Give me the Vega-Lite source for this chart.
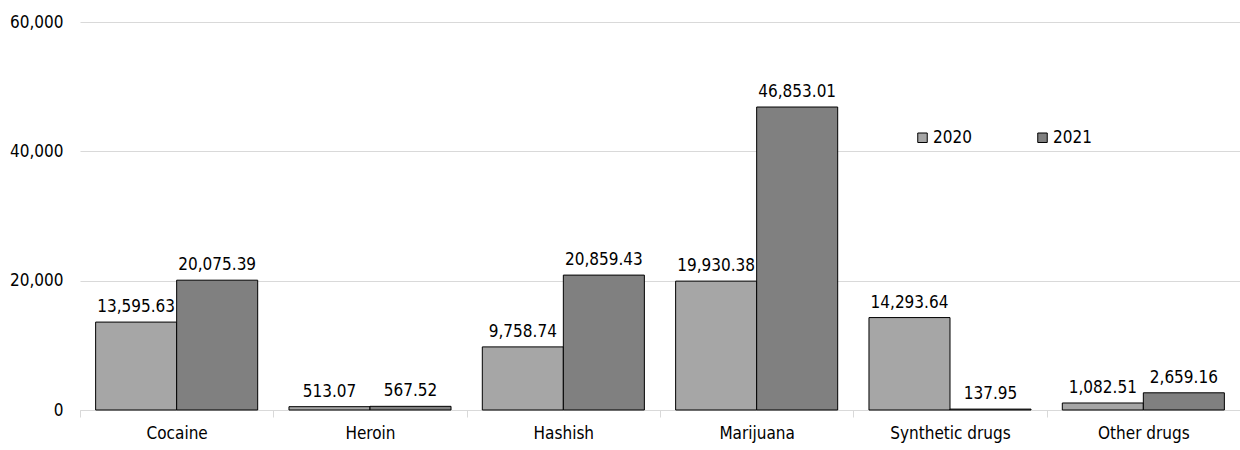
{
  "$schema": "https://vega.github.io/schema/vega-lite/v6.json",
  "width": 1160,
  "height": 388,
  "autosize": "none",
  "padding": {"left": 80, "top": 22, "right": 0, "bottom": 40},
  "background": "white",
  "config": {
    "font": "DejaVu Sans Condensed",
    "view": {"stroke": null}
  },
  "data": {
    "values": [
      {"drug": "Cocaine", "year": "2020", "value": 13595.63},
      {"drug": "Cocaine", "year": "2021", "value": 20075.39},
      {"drug": "Heroin", "year": "2020", "value": 513.07},
      {"drug": "Heroin", "year": "2021", "value": 567.52},
      {"drug": "Hashish", "year": "2020", "value": 9758.74},
      {"drug": "Hashish", "year": "2021", "value": 20859.43},
      {"drug": "Marijuana", "year": "2020", "value": 19930.38},
      {"drug": "Marijuana", "year": "2021", "value": 46853.01},
      {"drug": "Synthetic drugs", "year": "2020", "value": 14293.64},
      {"drug": "Synthetic drugs", "year": "2021", "value": 137.95},
      {"drug": "Other drugs", "year": "2020", "value": 1082.51},
      {"drug": "Other drugs", "year": "2021", "value": 2659.16}
    ]
  },
  "encoding": {
    "x": {
      "field": "drug", "type": "nominal", "sort": null, "title": null,
      "scale": {"paddingInner": 0, "paddingOuter": 0},
      "axis": {
        "labelAngle": 0, "labelFontSize": 17, "labelColor": "#000000",
        "labelPadding": 8, "domainColor": "#d9d9d9", "tickColor": "#d9d9d9",
        "tickSize": 7, "tickBand": "extent", "bandPosition": 0
      }
    },
    "xOffset": {"field": "year", "type": "nominal", "scale": {"paddingInner": 0, "paddingOuter": 0.193}},
    "y": {
      "field": "value", "type": "quantitative", "title": null,
      "scale": {"domain": [0, 60000], "nice": false},
      "axis": {
        "values": [0, 20000, 40000, 60000], "format": ",d",
        "labelFontSize": 17, "labelColor": "#000000", "labelPadding": 17,
        "domain": false, "ticks": false, "gridColor": "#d9d9d9"
      }
    }
  },
  "layer": [
    {
      "mark": {"type": "bar", "stroke": "#000000", "strokeWidth": 1, "opacity": 1},
      "encoding": {
        "fill": {
          "field": "year", "type": "nominal",
          "scale": {"domain": ["2020", "2021"], "range": ["#a6a6a6", "#808080"]},
          "legend": {
            "title": null, "orient": "none", "legendX": 834, "legendY": 107,
            "direction": "horizontal", "symbolType": "square", "symbolSize": 90,
            "symbolStrokeColor": "#000000", "symbolStrokeWidth": 1,
            "labelFontSize": 17, "labelColor": "#000000", "labelOffset": 2,
            "columnPadding": 62
          }
        }
      }
    },
    {
      "mark": {"type": "text", "baseline": "bottom", "dy": -6, "fontSize": 17, "color": "#000000"},
      "encoding": {
        "text": {"field": "value", "type": "quantitative", "format": ",.2f"}
      }
    }
  ]
}
